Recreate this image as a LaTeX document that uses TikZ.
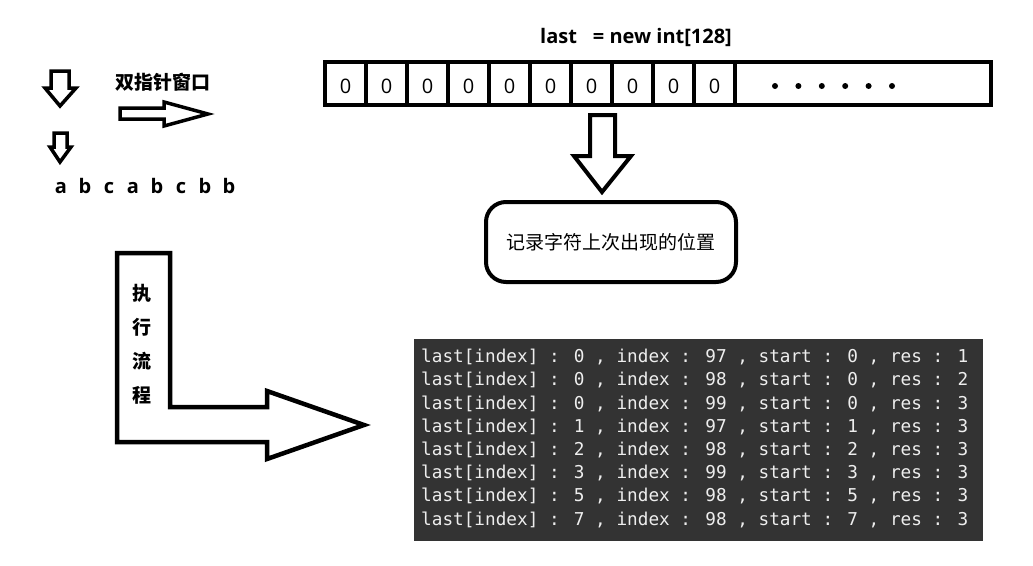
\documentclass[tikz,border=0pt]{standalone}
\usepackage{fontspec}
\setmainfont{Noto Sans CJK SC}
\newfontfamily\latinfont{Open Sans}
\newfontfamily\consolefont{DejaVu Sans Mono}
\usepackage{xcolor}
\usepackage{tikz}
\usetikzlibrary{positioning}

\definecolor{consolebg}{HTML}{333333}
\definecolor{consoletext}{HTML}{EEEEEE}

\begin{document}
\begin{tikzpicture}[x=1pt,y=-1pt,
    every node/.style={inner sep=0pt},
    thick line/.style={line width=4pt, line join=miter},
    cell/.style={font=\latinfont\fontsize{20}{20}\selectfont},
    letter/.style={font=\latinfont\bfseries\fontsize{20}{20}\selectfont},
    console/.style={font=\consolefont\fontsize{17.7}{17.7}\selectfont, text=consoletext, anchor=west}]
    \useasboundingbox (0,0) rectangle (1033,565);

    % array
    \node[font=\latinfont\bfseries\fontsize{20}{20}\selectfont] (title) at (636,37) {last\hspace{16pt}= new int[128]};
    \draw[thick line] (325,62) rectangle (991,105);
    \foreach \i in {1,...,10} {
        \draw[thick line] ({325+41*\i},62) -- ({325+41*\i},105);
        \node[cell] (c\i) at ({304.5+41*\i},86) {0};
    }
    \foreach \i in {0,...,5}
        \fill ({775+23.4*\i},86) circle (3pt);

    % arrow down to the box
    \draw[thick line] (590,115) -- (615,115) -- (615,156) -- (631,156) -- (602,192)
        -- (574,156) -- (590,156) -- cycle;
    \node[draw, line width=4pt, rounded corners=20pt, minimum width=250pt, minimum height=80pt,
        font=\fontsize{19}{19}\selectfont] (memo) at (611,242) {记录字符上次出现的位置};

    % window arrows
    \draw[line width=3.5pt, line join=miter] (51,71) -- (69,71) -- (69,88) -- (76,88) -- (60,106)
        -- (45,88) -- (51,88) -- cycle;
    \draw[line width=3.5pt, line join=miter] (54,133) -- (67,133) -- (67,147) -- (71,147) -- (60,162)
        -- (50,147) -- (54,147) -- cycle;
    \node[font=\bfseries\fontsize{19}{19}\selectfont] (window) at (163,82) {双指针窗口};
    \draw[line width=3.5pt, line join=miter] (120,108) -- (164,108) -- (164,102) -- (208,114)
        -- (164,126) -- (164,119) -- (120,119) -- cycle;
    \foreach \c [count=\i] in {a,b,c,a,b,c,b,b}
        \node[letter, anchor=base] (s\i) at ({37+24*\i},193) {\c};

    % flow arrow
    \draw[line width=4.5pt, line join=miter] (117,253) -- (170,253) -- (170,407) -- (267,407)
        -- (267,391) -- (364,425) -- (267,459) -- (267,442) -- (117,442) -- cycle;
    \foreach \t [count=\i] in {执,行,流,程}
        \node[font=\bfseries\fontsize{19}{19}\selectfont] (f\i) at (142,{259+34*\i}) {\t};

    % console output
    \fill[consolebg] (414,339) rectangle (983,541);
    \foreach \l/\ix/\r [count=\i] in {0/97/1,0/98/2,0/99/3,1/97/3,2/98/3,3/99/3,5/98/3,7/98/3}
        \node[console] (out\i) at (421,{334+23.2*\i})
            {last[index] : \l{} , index : \ix{} , start : \l{} , res : \r};
\end{tikzpicture}
\end{document}
